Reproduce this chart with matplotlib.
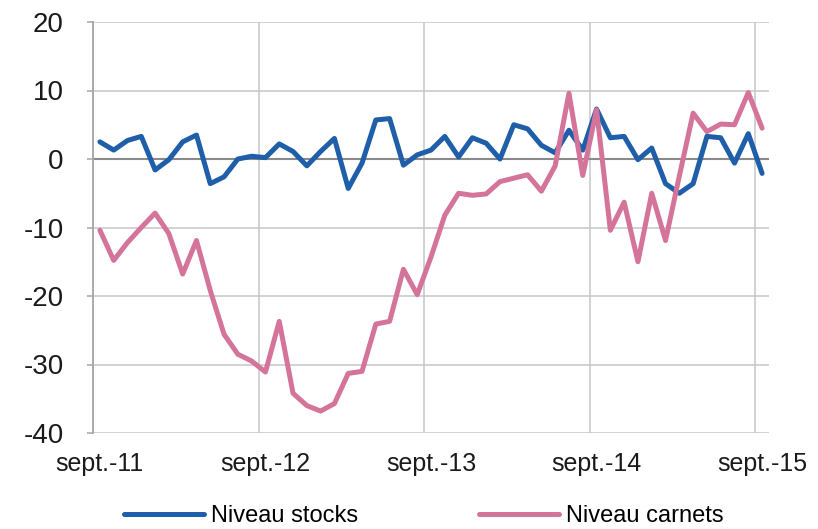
import pandas as pd
import matplotlib.pyplot as plt

plt.rcParams['font.family'] = ['Liberation Sans', 'DejaVu Sans']
plt.rcParams['axes.unicode_minus'] = False

# monthly data, sept. 2011 -> sept. 2015
months = pd.date_range('2011-09-01', periods=49, freq='MS')

stocks = [2.5, 1.3, 2.7, 3.3, -1.6, -0.1, 2.5, 3.5, -3.6, -2.6,
          0.0, 0.4, 0.2, 2.2, 1.1, -1.0, 1.1, 3.0, -4.3, -0.6,
          5.7, 5.9, -0.9, 0.6, 1.3, 3.3, 0.3, 3.1, 2.3, 0.0,
          5.0, 4.4, 2.0, 0.9, 4.2, 1.3, 7.3, 3.1, 3.3, -0.1,
          1.6, -3.6, -5.0, -3.6, 3.3, 3.1, -0.6, 3.7, -2.1]

carnets = [-10.4, -14.8, -12.2, -10.0, -7.9, -10.9, -16.8, -11.9, -19.2, -25.6,
           -28.5, -29.5, -31.1, -23.7, -34.2, -36.0, -36.8, -35.7, -31.3, -31.0,
           -24.1, -23.7, -16.1, -19.8, -14.3, -8.2, -5.0, -5.3, -5.1, -3.3,
           -2.8, -2.3, -4.7, -1.0, 9.6, -2.4, 7.2, -10.4, -6.3, -15.0,
           -5.0, -11.9, -2.5, 6.7, 4.0, 5.1, 5.0, 9.7, 4.5]

tick_months = [0, 12, 24, 36, 48]
tick_labels = ['sept.-' + months[i].strftime('%y') for i in tick_months]

blue = '#1F5EA8'
pink = '#D5749A'

fig = plt.figure(figsize=(8.18, 5.29), dpi=100)
ax = fig.add_axes([93/818, 1 - 433/529, (769 - 93)/818, (433 - 22)/529])

x = list(range(len(months)))

# grid
for g in [-30, -20, -10, 10, 20, -40]:
    ax.axhline(g, color='#c6c6c6', lw=1.1, zorder=1)
for i in tick_months:
    ax.axvline(i - 0.5, color='#c6c6c6', lw=1.1, zorder=1)
ax.axhline(0, color='#8a8a8a', lw=1.5, zorder=2)

ax.plot(x, stocks, color=blue, lw=3.6, label='Niveau stocks', zorder=3,
        solid_joinstyle='round', solid_capstyle='round')
ax.plot(x, carnets, color=pink, lw=3.6, label='Niveau carnets', zorder=4,
        solid_joinstyle='round', solid_capstyle='round')

ax.set_xlim(-0.5, 48.5)
ax.set_ylim(-40, 20)
ax.set_yticks(range(-40, 21, 10))
ax.set_xticks(tick_months)
ax.set_xticklabels(tick_labels)

for s in ['top', 'right', 'bottom']:
    ax.spines[s].set_visible(False)
ax.spines['left'].set_color('#a6a6a6')
ax.spines['left'].set_linewidth(1.3)

ax.tick_params(axis='y', length=4, width=1.1, color='#a6a6a6', pad=17,
               labelsize=20, labelcolor='#1a1a1a')
ax.tick_params(axis='x', length=0, pad=14, labelsize=18, labelcolor='#1a1a1a')

fig.legend(loc='center', bbox_to_anchor=(0.518, 0.024), ncol=2, frameon=False,
           fontsize=17, handlelength=3.4, handletextpad=0.3, columnspacing=5.1)

fig.savefig('out.png', dpi=100)
